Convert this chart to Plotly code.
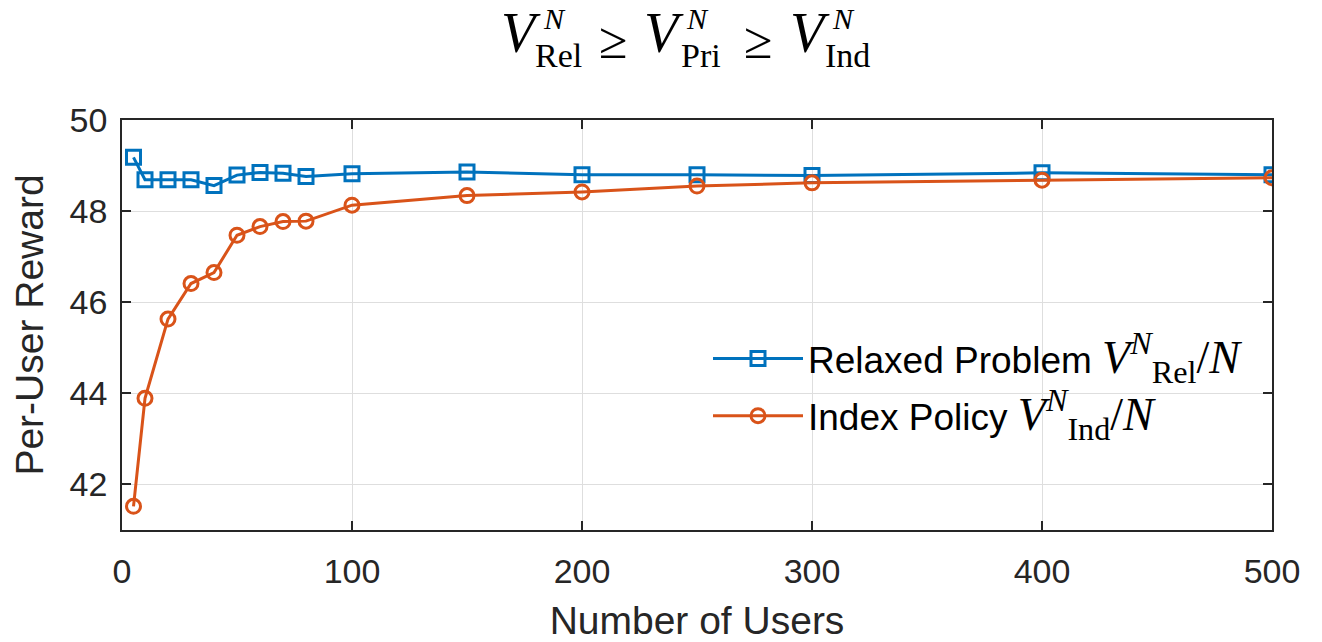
import plotly.graph_objects as go

users = [5, 10, 20, 30, 40, 50, 60, 70, 80, 100, 150, 200, 250, 300, 400, 500]
relaxed = [49.18, 48.69, 48.69, 48.69, 48.56, 48.79, 48.85, 48.83, 48.76, 48.82, 48.86,
           48.80, 48.80, 48.78, 48.84, 48.80]
index_policy = [41.52, 43.89, 45.63, 46.41, 46.65, 47.47, 47.66, 47.77, 47.78, 48.13, 48.34,
                48.42, 48.55, 48.62, 48.68, 48.73]
x_ticks = [0, 100, 200, 300, 400, 500]
y_ticks = [42, 44, 46, 48, 50]
title_terms = ["Rel", "Pri", "Ind"]

SERIF = "Liberation Serif, DejaVu Serif, serif"
SANS = "Liberation Sans, Arial, sans-serif"

# plot area in pixels
L, R, T, B = 122, 50, 120, 112
W, H = 1322, 642
PW, PH = W - L - R, H - T - B


def px2paper(px, py):
    return (px - L) / PW, (H - B - py) / PH


def vexpr(sub):
    return ('<span style="font-family:%s;font-size:46px"><i>V</i><sup><i>N</i></sup>'
            '<sub>%s</sub>/<i>N</i></span>' % (SERIF, sub))


fig = go.Figure()
fig.add_trace(go.Scatter(
    x=users, y=relaxed, mode="lines+markers",
    name='Relaxed Problem ' + vexpr("Rel"), legendgroup="rel",
    line=dict(color="#0072BD", width=3),
    marker=dict(symbol="square-open", size=14, color="#0072BD", line=dict(width=3)),
))
fig.add_trace(go.Scatter(
    x=users, y=index_policy, mode="lines+markers",
    name='Index Policy ' + vexpr("Ind"), legendgroup="ind",
    line=dict(color="#D95319", width=3),
    marker=dict(symbol="circle-open", size=14, color="#D95319", line=dict(width=3)),
))

axis_common = dict(
    showgrid=True, gridcolor="#dedede", gridwidth=1,
    showline=True, linecolor="#262626", linewidth=1.5, mirror="ticks",
    ticks="inside", ticklen=9, tickcolor="#262626", tickwidth=1.5,
    tickfont=dict(family=SANS, size=34, color="#262626"),
    zeroline=False, automargin=False,
)

fig.update_layout(
    width=W, height=H,
    margin=dict(l=L, r=R, t=T, b=B),
    paper_bgcolor="white", plot_bgcolor="white",
    xaxis=dict(range=[0, 500], tickvals=x_ticks, ticklabelstandoff=10,
               title=dict(text="Number of Users", font=dict(family=SANS, size=39, color="#262626"),
                          standoff=18),
               **axis_common),
    yaxis=dict(range=[41, 50], tickvals=y_ticks, ticklabelstandoff=6,
               title=dict(text="Per-User Reward", font=dict(family=SANS, size=39, color="#262626"),
                          standoff=14),
               **axis_common),
    legend=dict(x=px2paper(708, 0)[0], y=px2paper(0, 328)[1], xanchor="left", yanchor="top",
                bgcolor="rgba(255,255,255,0)", borderwidth=0,
                font=dict(family=SANS, size=37, color="#000000"),
                tracegroupgap=6, itemwidth=90),
    showlegend=True,
)

# Title: V^N_sub >= ... with stacked super/subscripts
v_centers = [521, 664, 810]
geq_centers = [613, 758]
for i, sub in enumerate(title_terms):
    cx = v_centers[i]
    items = [
        ("<i>V</i>", cx, 33, 56),
        ("<i>N</i>", cx + 33, 18, 30),
        (sub, cx + 37, 55, 34),
    ]
    for text, px, py, size in items:
        xp, yp = px2paper(px, py)
        fig.add_annotation(xref="paper", yref="paper", x=xp, y=yp, xanchor="center",
                           yanchor="middle", showarrow=False, text=text,
                           font=dict(family=SERIF, size=size, color="#000000"))
for gx in geq_centers:
    xp, yp = px2paper(gx, 40)
    fig.add_annotation(xref="paper", yref="paper", x=xp, y=yp, xanchor="center",
                       yanchor="middle", showarrow=False, text="≥",
                       font=dict(family=SERIF, size=52, color="#000000"))

fig.write_html("out.html")
